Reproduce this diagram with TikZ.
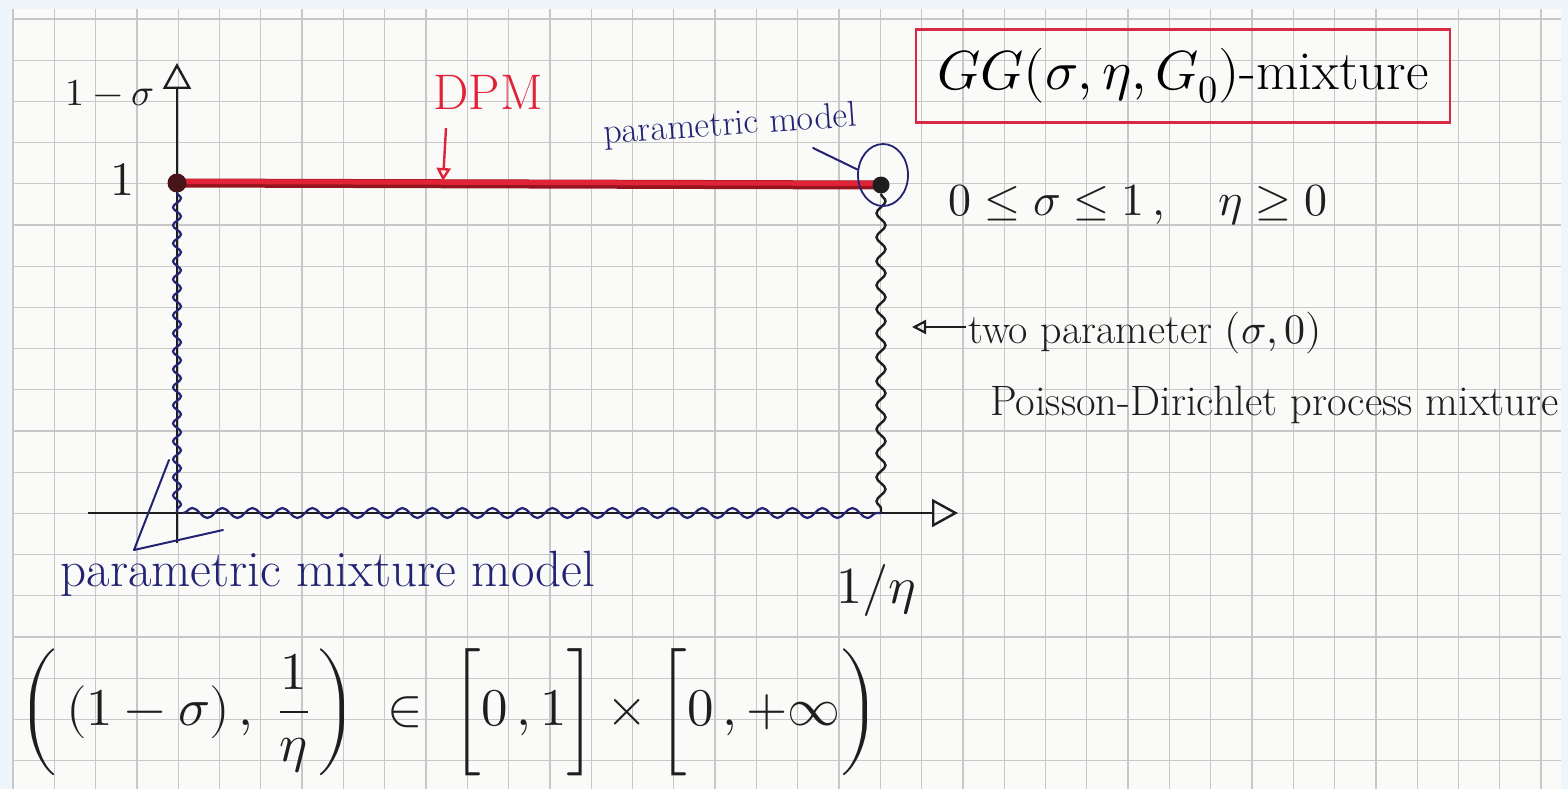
\documentclass[tikz,border=0pt]{standalone}
\usepackage{amsmath}
\usepackage{unicode-math}
\setmathfont{Latin Modern Math}
\usetikzlibrary{arrows.meta,decorations.pathmorphing,shapes.geometric}
\definecolor{bgblue}{RGB}{238,246,252}
\definecolor{paperwhite}{RGB}{250,250,249}
\definecolor{gridgray}{RGB}{200,200,200}
\definecolor{ink}{RGB}{30,30,30}
\definecolor{handblue}{RGB}{35,35,115}
\definecolor{handred}{RGB}{225,35,55}
\definecolor{darkred}{RGB}{150,20,30}
\definecolor{boxred}{RGB}{215,40,70}
\tikzset{
  gridline/.style={draw=gridgray, line width=1.3},
  axisline/.style={draw=ink, line width=2.4, -{Triangle[open,length=26,width=28]}},
  wavyblue/.style={draw=handblue, line width=2.2, decorate, decoration={snake, segment length=18, amplitude=4}},
  wavyblack/.style={draw=ink, line width=2.4, decorate, decoration={snake, segment length=24, amplitude=4.5}},
  wavybottom/.style={draw=handblue, line width=2.2, decorate, decoration={snake, segment length=30, amplitude=5}},
  dotnode/.style={circle, fill=ink, inner sep=0pt, minimum size=17},
  bluepen/.style={draw=handblue, line width=2, line join=round, line cap=round},
  redarrow/.style={draw=handred, line width=2.4, -{Triangle[open,length=13,width=14]}},
  smallarrow/.style={draw=ink, line width=2.2, -{Triangle[open,length=14,width=14]}},
  bluetext/.style={text=handblue, inner sep=2pt},
  inktext/.style={text=ink, inner sep=2pt},
}
\newcommand{\fsz}[1]{\fontsize{#1}{#1}\selectfont}
\begin{document}
\begin{tikzpicture}[x=1pt,y=-1pt]
\useasboundingbox (0,0) rectangle (1568,789);
% background and squared paper
\fill[bgblue] (0,0) rectangle (1568,789);
\fill[paperwhite] (12,9) rectangle (1561,789);
\foreach \i in {0,...,37} \draw[gridline] ({13+41.3*\i},9) -- ({13+41.3*\i},789);
\foreach \j in {0,...,18} \draw[gridline] (12,{19+41.2*\j}) -- (1561,{19+41.2*\j});

% key coordinates
\coordinate (c1) at (177,183);
\coordinate (c2) at (881,185);
\coordinate (O) at (177,513);
\coordinate (xe) at (881,513);
\coordinate (ytop) at (177,63);
\coordinate (ybot) at (177,543);
\coordinate (xl) at (88,513);
\coordinate (xr) at (958,513);

% axes
\draw[axisline] (ybot) -- (ytop);
\draw[axisline] (xl) -- (xr);

% DPM red segment
\draw[draw=darkred, line width=9] (c1) -- (c2);
\draw[draw=handred, line width=5] ([yshift=1.5]c1) -- ([yshift=1.5]c2);

% end points
\node[dotnode, fill={rgb,255:red,70;green,20;blue,25}, minimum size=19] (o1) at (c1) {};
\node[dotnode] (o2) at (c2) {};

% wavy edges
\draw[wavyblue] (o1.south) -- (O);
\draw[wavyblack] (o2.south) -- (xe);
\draw[wavybottom] ([xshift=6]O) -- (xe);

% circle around the parametric model point
\node[draw=handblue, line width=1.8, ellipse, minimum width=50, minimum height=62, inner sep=0pt] (pc) at (883,175) {};

% axis labels
\node[inktext] (ylab) at (110,93) {\fsz{38}$1-\sigma$};
\node[inktext] (one) at (122,180) {\fsz{48}$1$};
\node[inktext] (xlab) at (876,590) {\fsz{52}$1/\eta$};

% DPM label and arrow
\node[text=handred, inner sep=2pt] (dpm) at (488,92) {\fsz{50}DPM};
\coordinate (dpmA) at (446,128);
\coordinate (dpmB) at (443,181);
\draw[redarrow] (dpmA) -- (dpmB);

% parametric model label
\node[bluetext, rotate=4] (pm) at (730,126) {\fsz{36}parametric model};
\coordinate (pmA) at (813,148);
\draw[bluepen] (pmA) -- (pc.168);

% parametric mixture model label and pointer
\node[bluetext] (pmm) at (328,574) {\fsz{51}parametric mixture model};
\coordinate (tA) at (169,460);
\coordinate (tB) at (134,550);
\coordinate (tC) at (223,530);
\draw[bluepen] (tA) -- (tB) -- (tC);

% two parameter PD label
\node[inktext, anchor=west] (tp) at (966,333) {\fsz{42}two parameter $(\sigma,0)$};
\node[inktext, anchor=west] (pd) at (988,405) {\fsz{42.5}Poisson-Dirichlet process mixture};
\coordinate (tpB) at (912,327);
\draw[smallarrow] (tp.west |- tpB) -- (tpB);

% GG mixture box
\node[draw=boxred, line width=2.2, minimum width=534, minimum height=93, inner sep=0pt] (gg) at (1183,76)
  {\fsz{55}$GG(\sigma,\eta,G_0)$-mixture};

% constraints
\node[inktext] (cons) at (1138,205) {\fsz{46}$0\le\sigma\le1\,,\quad \eta\ge0$};

% domain formula
\node[inktext] (dom) at (449,712) {\fsz{53}$\left(\,(1-\sigma)\,,\ \dfrac{1}{\eta}\,\right)\ \in\ \biggl[0\,,1\biggr]\times\biggl[0\,,+\infty\biggr)$};
\end{tikzpicture}
\end{document}
